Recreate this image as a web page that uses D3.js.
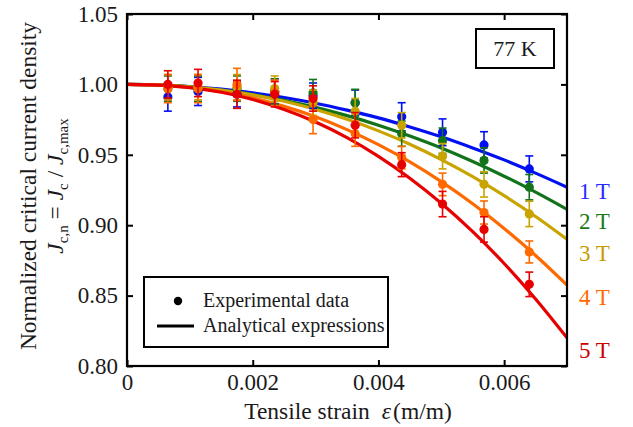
<!DOCTYPE html>
<html><head><meta charset="utf-8">
<script src="https://cdn.jsdelivr.net/npm/d3@7"></script>
<style>body{margin:0;background:#fff}svg text{font-family:"Liberation Serif","Times New Roman",Times,serif}</style>
</head><body><svg id="c" width="633" height="427"></svg>
<script>
// ---- data ----
const strainPts = [0.00065, 0.00113, 0.00175, 0.00235, 0.00296, 0.00363, 0.00437, 0.00502, 0.00568, 0.0064];
const fields = ["1 T", "2 T", "3 T", "4 T", "5 T"];
const exp1T = [0.991, 0.995, 0.993, 0.995, 0.992, 0.987, 0.977, 0.966, 0.957, 0.940];
const exp2T = [0.997, 0.997, 0.997, 0.995, 0.994, 0.987, 0.965, 0.960, 0.946, 0.927];
const exp3T = [0.998, 0.998, 0.998, 0.997, 0.987, 0.981, 0.971, 0.949, 0.929, 0.908];
const exp4T = [0.997, 0.997, 1.000, 0.994, 0.975, 0.965, 0.948, 0.929, 0.909, 0.881];
const exp5T = [1.000, 1.001, 0.993, 0.993, 0.990, 0.971, 0.943, 0.915, 0.897, 0.858];
const err1T = [0.010, 0.010, 0.009, 0.009, 0.009, 0.009, 0.010, 0.0095, 0.0094, 0.0092];
const err2T = [0.009, 0.009, 0.009, 0.009, 0.0095, 0.0095, 0.009, 0.009, 0.009, 0.009];
const err3T = [0.009, 0.009, 0.009, 0.009, 0.009, 0.009, 0.009, 0.009, 0.009, 0.009];
const err4T = [0.010, 0.010, 0.0114, 0.009, 0.010, 0.009, 0.008, 0.008, 0.0082, 0.0078];
const err5T = [0.0097, 0.0097, 0.010, 0.009, 0.009, 0.009, 0.0085, 0.009, 0.009, 0.0087];
const strainFit = [0, 0.0005, 0.001, 0.0015, 0.002, 0.0025, 0.003, 0.0035, 0.004, 0.0045, 0.005, 0.0055, 0.006, 0.0065, 0.007];
const fit1T = [1, 0.9996, 0.9985, 0.9966, 0.9940, 0.9907, 0.9866, 0.9817, 0.9762, 0.9698, 0.9628, 0.9549, 0.9464, 0.9370, 0.9270];
const fit2T = [1, 0.9996, 0.9982, 0.9959, 0.9928, 0.9887, 0.9837, 0.9778, 0.9710, 0.9633, 0.9548, 0.9452, 0.9348, 0.9235, 0.9113];
const fit3T = [1, 0.9996, 0.9983, 0.9960, 0.9926, 0.9880, 0.9822, 0.9752, 0.9670, 0.9575, 0.9466, 0.9345, 0.9210, 0.9062, 0.8900];
const fit4T = [1, 0.9995, 0.9978, 0.9948, 0.9904, 0.9844, 0.9770, 0.9679, 0.9572, 0.9449, 0.9309, 0.9152, 0.8977, 0.8785, 0.8575];
const fit5T = [1, 0.9995, 0.9977, 0.9944, 0.9893, 0.9822, 0.9733, 0.9622, 0.9489, 0.9334, 0.9156, 0.8954, 0.8728, 0.8476, 0.8200];
const xTicks = [0, 0.002, 0.004, 0.006];
const yTicks = [0.80, 0.85, 0.90, 0.95, 1.00, 1.05];

const colors = ["#0010f0", "#12731a", "#c9a400", "#ff6a00", "#e60000"];
const labelColors = ["#2a2aff", "#1a7a1a", "#c79b00", "#ff6a00", "#cc0000"];
const labelBaselines = [199, 229, 261, 305, 358];

const exps = [exp1T, exp2T, exp3T, exp4T, exp5T];
const errs = [err1T, err2T, err3T, err4T, err5T];
const fits = [fit1T, fit2T, fit3T, fit4T, fit5T];

const svg = d3.select("#c");
const L = 127, T = 14, R = 567, B = 366;
const x = d3.scaleLinear().domain([0, 0.007]).range([L, R]);
const y = d3.scaleLinear().domain([0.80, 1.05]).range([B, T]);
const ink = "#1a1a1a";
const fs = 23;
const tk = 6;
const axB = svg.append("g").attr("transform", `translate(0,${B})`)
  .call(d3.axisBottom(x).tickValues(xTicks).tickSize(-tk).tickPadding(8).tickFormat(d => d === 0 ? "0" : d3.format(".3f")(d)));
const axT = svg.append("g").attr("transform", `translate(0,${T})`)
  .call(d3.axisTop(x).tickValues(xTicks).tickSize(-tk).tickFormat(""));
const axL = svg.append("g").attr("transform", `translate(${L},0)`)
  .call(d3.axisLeft(y).tickValues(yTicks).tickSize(-tk).tickPadding(9).tickFormat(d3.format(".2f")));
const axR = svg.append("g").attr("transform", `translate(${R},0)`)
  .call(d3.axisRight(y).tickValues(yTicks).tickSize(-tk).tickFormat(""));
[axB, axT, axL, axR].forEach(a => {
  a.attr("font-family", null);
  a.select(".domain").remove();
  a.selectAll(".tick line").attr("stroke", "#000").attr("stroke-width", 2);
  a.selectAll("text").attr("font-size", fs).attr("fill", ink);
});
axB.selectAll("text").attr("dy", "0.71em");

// curves
const line = d3.line().x((d, i) => x(strainFit[i])).y(d => y(d)).curve(d3.curveMonotoneX);
const gL = svg.append("g");
fits.forEach((f, k) => {
  gL.append("path").attr("d", line(f)).attr("fill", "none").attr("stroke", colors[k]).attr("stroke-width", 3.2);
});
// points with error bars
const gP = svg.append("g");
exps.forEach((e, k) => {
  const g = gP.append("g").attr("stroke", colors[k]).attr("fill", colors[k]);
  e.forEach((v, i) => {
    const cx = x(strainPts[i]);
    const y1 = y(v + errs[k][i]), y2 = y(v - errs[k][i]);
    g.append("line").attr("x1", cx).attr("x2", cx).attr("y1", y1).attr("y2", y2).attr("stroke-width", 1.6);
    g.append("line").attr("x1", cx - 4).attr("x2", cx + 4).attr("y1", y1).attr("y2", y1).attr("stroke-width", 1.6);
    g.append("line").attr("x1", cx - 4).attr("x2", cx + 4).attr("y1", y2).attr("y2", y2).attr("stroke-width", 1.6);
    g.append("circle").attr("cx", cx).attr("cy", y(v)).attr("r", 4.6).attr("stroke", "none");
  });
});

// frame
svg.append("rect").attr("x", L).attr("y", T).attr("width", R - L).attr("height", B - T)
  .attr("fill", "none").attr("stroke", "#000").attr("stroke-width", 2.2);

// field labels
fields.forEach((f, k) => {
  svg.append("text").attr("x", 579).attr("y", labelBaselines[k]).attr("font-size", fs)
    .attr("fill", labelColors[k]).text(f);
});

// 77 K box
svg.append("rect").attr("x", 476).attr("y", 29).attr("width", 78).attr("height", 39)
  .attr("fill", "#fff").attr("stroke", "#000").attr("stroke-width", 2);
svg.append("text").attr("x", 515).attr("y", 56).attr("text-anchor", "middle").attr("font-size", 22).attr("fill", ink).text("77 K");

// legend
svg.append("rect").attr("x", 144).attr("y", 277).attr("width", 244).attr("height", 70)
  .attr("fill", "#fff").attr("stroke", "#000").attr("stroke-width", 2);
svg.append("circle").attr("cx", 178).attr("cy", 301).attr("r", 4.2).attr("fill", "#000");
svg.append("line").attr("x1", 157).attr("x2", 194).attr("y1", 326).attr("y2", 326).attr("stroke", "#000").attr("stroke-width", 3);
svg.append("text").attr("x", 203).attr("y", 307).attr("font-size", 20).attr("fill", ink).text("Experimental data");
svg.append("text").attr("x", 203).attr("y", 332).attr("font-size", 20).attr("fill", ink).text("Analytical expressions");

// x title
const xt = svg.append("text").attr("x", 348).attr("y", 419).attr("text-anchor", "middle").attr("font-size", 23.5).attr("fill", ink);
xt.append("tspan").text("Tensile strain");
xt.append("tspan").attr("dx", 12).attr("font-style", "italic").text("ε");
xt.append("tspan").attr("dx", 2).text("(m/m)");

// y title
const yt = svg.append("g").attr("transform", "translate(0,186) rotate(-90)");
yt.append("text").attr("x", 0).attr("y", 36).attr("text-anchor", "middle").attr("font-size", 23.5).attr("fill", ink)
  .text("Normalized critical current density");
const t2 = yt.append("text").attr("x", 0).attr("y", 63).attr("text-anchor", "middle").attr("font-size", 23.5).attr("fill", ink);
t2.append("tspan").attr("font-style", "italic").text("J");
t2.append("tspan").attr("font-size", 15).attr("dy", 5).text("c,n");
t2.append("tspan").attr("dy", -5).text(" = ");
t2.append("tspan").attr("font-style", "italic").text("J");
t2.append("tspan").attr("font-size", 15).attr("dy", 5).text("c");
t2.append("tspan").attr("dy", -5).text(" / ");
t2.append("tspan").attr("font-style", "italic").text("J");
t2.append("tspan").attr("font-size", 15).attr("dy", 5).text("c,max");
</script></body></html>
